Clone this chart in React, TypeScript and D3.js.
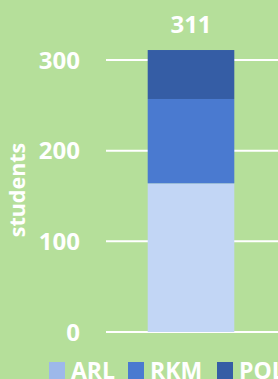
import React, { useEffect, useRef } from "react";
import * as d3 from "d3";

const categories = ["students"];
const series = ["ARL", "RKM", "POL"];
const arl = [164];
const rkm = [93];
const pol = [54];
const yTicks = [0, 100, 200, 300];

const barColors = ["#c2d6f5", "#4a7ad0", "#355da5"];
const legendColors = ["#9db8ea", "#4a7ad0", "#355da5"];

const W = 278;
const H = 379;
const FONT = "'Open Sans', sans-serif";

export default function App() {
  const ref = useRef<SVGSVGElement>(null);

  useEffect(() => {
    document.body.style.margin = "0";
    const svg = d3.select(ref.current);
    svg.selectAll("*").remove();

    const y = d3.scaleLinear().domain([0, 300]).range([332, 60]);
    const x = d3.scaleBand().domain(categories).range([106, 276]).padding(0.325);

    svg.append("rect").attr("width", W).attr("height", H).attr("fill", "#b5df9a");

    // gridlines + tick labels
    const g = svg.append("g");
    g.selectAll("line")
      .data(yTicks)
      .join("line")
      .attr("x1", 106)
      .attr("x2", W)
      .attr("y1", (d) => y(d))
      .attr("y2", (d) => y(d))
      .attr("stroke", "#ffffff")
      .attr("stroke-width", 2);
    g.selectAll("text")
      .data(yTicks)
      .join("text")
      .attr("x", 80)
      .attr("y", (d) => y(d))
      .attr("dy", "0.36em")
      .attr("text-anchor", "end")
      .attr("fill", "#ffffff")
      .attr("font-family", FONT)
      .attr("font-weight", 700)
      .attr("font-size", 24)
      .text((d) => d);

    // stacked bar
    const rows = categories.map((c, i) => ({ cat: c, ARL: arl[i], RKM: rkm[i], POL: pol[i] }));
    const stacked = d3.stack<any>().keys(series)(rows);
    stacked.forEach((layer, li) => {
      svg.append("g")
        .selectAll("rect")
        .data(layer)
        .join("rect")
        .attr("x", (d) => x(d.data.cat)!)
        .attr("width", x.bandwidth())
        .attr("y", (d) => y(d[1]))
        .attr("height", (d) => y(d[0]) - y(d[1]))
        .attr("fill", barColors[li]);
    });

    // total label
    rows.forEach((r) => {
      const total = r.ARL + r.RKM + r.POL;
      svg.append("text")
        .attr("x", x(r.cat)! + x.bandwidth() / 2)
        .attr("y", y(total) - 17)
        .attr("text-anchor", "middle")
        .attr("fill", "#ffffff")
        .attr("font-family", FONT)
        .attr("font-weight", 700)
        .attr("font-size", 24)
        .text(total);
    });

    // axis title
    svg.append("text")
      .attr("transform", `translate(25,190) rotate(-90)`)
      .attr("text-anchor", "middle")
      .attr("fill", "#ffffff")
      .attr("font-family", FONT)
      .attr("font-weight", 700)
      .attr("font-size", 21.5)
      .text("students");

    // legend (cut off at the bottom edge, as in the original)
    const legendX = [49, 128, 217];
    const lg = svg.append("g");
    series.forEach((s, i) => {
      lg.append("rect")
        .attr("x", legendX[i])
        .attr("y", 362)
        .attr("width", 16)
        .attr("height", 17)
        .attr("fill", legendColors[i]);
      lg.append("text")
        .attr("x", legendX[i] + 22)
        .attr("y", 379)
        .attr("fill", "#ffffff")
        .attr("font-family", FONT)
        .attr("font-weight", 700)
        .attr("font-size", 23)
        .text(s);
    });
  }, []);

  return <svg ref={ref} width={W} height={H} style={{ display: "block" }} />;
}
